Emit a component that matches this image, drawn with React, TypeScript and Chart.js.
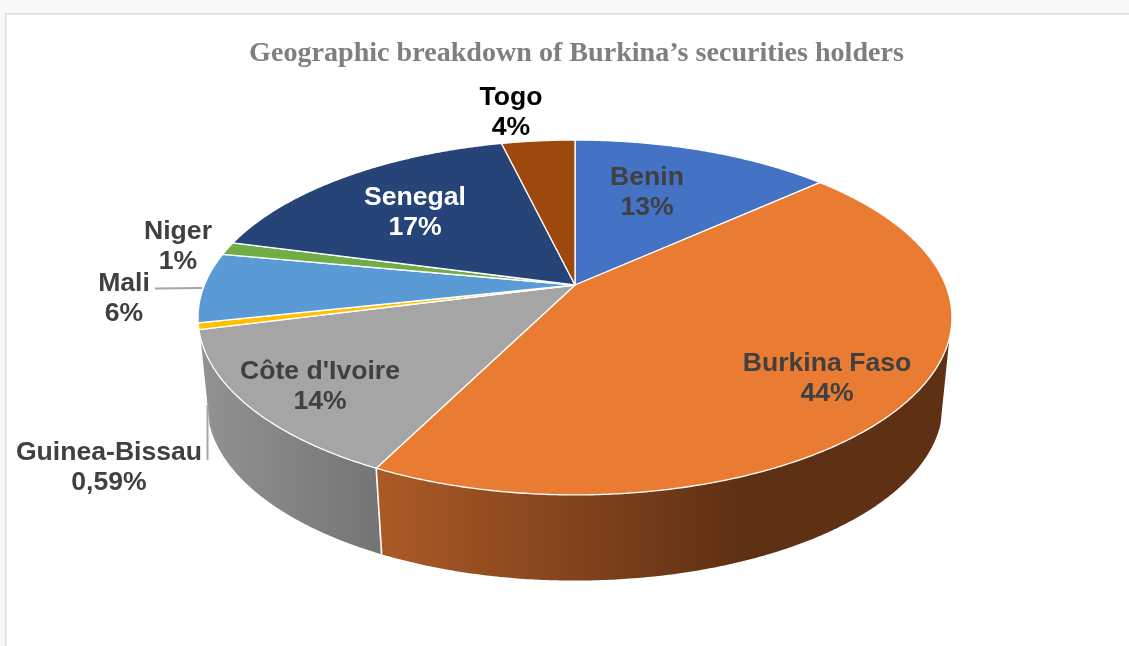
import React, { useEffect, useRef } from "react";
import { Chart, registerables } from "chart.js";

Chart.register(...registerables);

const titleText = "Geographic breakdown of Burkina’s securities holders";
const categories = ["Benin", "Burkina Faso", "Côte d'Ivoire", "Guinea-Bissau", "Mali", "Niger", "Senegal", "Togo"];
const shares = [13.3, 44.1, 13.6, 0.59, 6.35, 1.2, 17.1, 3.75];
const shareLabels = ["13%", "44%", "14%", "0,59%", "6%", "1%", "17%", "4%"];
const sliceColors = ["#4472c4", "#ea7b32", "#a5a5a5", "#ffc000", "#5b9bd5", "#70ad47", "#264478", "#9e480e"];
const labelColors = ["#404040", "#404040", "#404040", "#404040", "#404040", "#404040", "#ffffff", "#000000"];
const labelCentres: [number, number][] = [
  [647, 177.5], [827, 363.5], [320, 371.5], [109, 452.5], [124, 283.5], [178, 231.5], [415, 197.5], [511, 97.5],
];

// Perspective of the pie's top and bottom faces
const topFace = { cx: 575, y0: 285, rx: 370.6, ry: 171.5, k: 0.183 };
const bottomFace = { cx: 575, y0: 372, rx: 361.5, ry: 170, k: 0.185 };
const wallFrom = (107 * Math.PI) / 180;
const wallTo = (253 * Math.PI) / 180;

type Face = typeof topFace;
const project = (f: Face, theta: number, r = 1) => {
  const u = r * Math.sin(theta);
  const v = r * Math.cos(theta);
  const w = 1 + f.k * v;
  return [f.cx + (f.rx * u) / w, f.y0 - (f.ry * v) / w] as [number, number];
};
const sweep = (a: number, b: number) => {
  const n = Math.max(2, Math.ceil(Math.abs(b - a) / 0.008));
  const out: number[] = [];
  for (let i = 0; i <= n; i++) out.push(a + ((b - a) * i) / n);
  return out;
};

const pie3d = {
  id: "pie3d",
  beforeDraw(chart: any) {
    const { ctx, width, height } = chart;
    ctx.save();
    ctx.fillStyle = "#f7f8fa";
    ctx.fillRect(0, 0, width, height);
    ctx.fillStyle = "#ffffff";
    ctx.fillRect(6, 14, width, height);
    ctx.strokeStyle = "#dcdcdc";
    ctx.lineWidth = 1.5;
    ctx.beginPath();
    ctx.moveTo(5.75, height);
    ctx.lineTo(5.75, 13.75);
    ctx.lineTo(width, 13.75);
    ctx.stroke();
    ctx.restore();
  },
  beforeDatasetDraw(chart: any) {
    const { ctx } = chart;
    const arcs = chart.getDatasetMeta(0).data;
    ctx.save();
    // walls
    arcs.forEach((arc: any, i: number) => {
      const s = arc.startAngle + Math.PI / 2;
      const e = arc.endAngle + Math.PI / 2;
      const a = Math.max(s, wallFrom);
      const b = Math.min(e, wallTo);
      if (b <= a) return;
      const g = ctx.createLinearGradient(i === 1 ? 380 : 205, 0, i === 1 ? 745 : 380, 0);
      if (i === 1) {
        g.addColorStop(0, "#ab5a26");
        g.addColorStop(1, "#5e3014");
      } else {
        g.addColorStop(0, "#929292");
        g.addColorStop(1, "#747474");
      }
      ctx.beginPath();
      sweep(a, b).forEach((t, j) => {
        const p = project(topFace, t);
        j ? ctx.lineTo(p[0], p[1]) : ctx.moveTo(p[0], p[1]);
      });
      sweep(b, a).forEach((t) => {
        const p = project(bottomFace, t);
        ctx.lineTo(p[0], p[1]);
      });
      ctx.closePath();
      ctx.fillStyle = g;
      ctx.fill();
    });
    // seam between the two visible walls
    const seam = arcs[1].endAngle + Math.PI / 2;
    const p1 = project(topFace, seam);
    const p2 = project(bottomFace, seam);
    ctx.strokeStyle = "#ffffff";
    ctx.lineWidth = 1.6;
    ctx.beginPath();
    ctx.moveTo(p1[0], p1[1]);
    ctx.lineTo(p2[0] + 1, p2[1]);
    ctx.stroke();
    // top face
    arcs.forEach((arc: any) => {
      const s = arc.startAngle + Math.PI / 2;
      const e = arc.endAngle + Math.PI / 2;
      ctx.beginPath();
      ctx.moveTo(topFace.cx, topFace.y0);
      sweep(s, e).forEach((t) => {
        const p = project(topFace, t);
        ctx.lineTo(p[0], p[1]);
      });
      ctx.closePath();
      ctx.fillStyle = arc.options.backgroundColor;
      ctx.fill();
      ctx.strokeStyle = "#ffffff";
      ctx.lineWidth = 1.3;
      ctx.lineJoin = "round";
      ctx.stroke();
    });
    ctx.restore();
    return false;
  },
  afterDatasetsDraw(chart: any) {
    const { ctx } = chart;
    ctx.save();
    ctx.strokeStyle = "#a6a6a6";
    ctx.lineWidth = 2;
    ctx.beginPath();
    ctx.moveTo(155, 288.5);
    ctx.lineTo(202, 288);
    ctx.moveTo(207.5, 405);
    ctx.lineTo(207.5, 460);
    ctx.stroke();
    ctx.font = "bold 26.6px 'Liberation Sans'";
    ctx.textAlign = "center";
    ctx.textBaseline = "middle";
    categories.forEach((c, i) => {
      const [x, y] = labelCentres[i];
      ctx.fillStyle = labelColors[i];
      ctx.fillText(c, x, y);
      ctx.fillText(shareLabels[i], x, y + 30);
    });
    ctx.restore();
  },
};

export default function App() {
  const ref = useRef<HTMLCanvasElement>(null);
  useEffect(() => {
    document.body.style.margin = "0";
    const chart = new Chart(ref.current as HTMLCanvasElement, {
      type: "pie",
      data: {
        labels: categories,
        datasets: [{ data: shares, backgroundColor: sliceColors, borderWidth: 0 }],
      },
      options: {
        responsive: false,
        animation: false,
        layout: { padding: { left: 24, top: 0 } },
        plugins: {
          legend: { display: false },
          tooltip: { enabled: false },
          title: {
            display: true,
            text: titleText,
            color: "#7f7f7f",
            font: { family: "'Liberation Serif'", size: 28.1, weight: "bold" },
            padding: { top: 37, bottom: 10 },
          },
        },
      },
      plugins: [pie3d],
    } as any);
    return () => chart.destroy();
  }, []);
  return <canvas ref={ref} width={1129} height={646} style={{ display: "block" }} />;
}
